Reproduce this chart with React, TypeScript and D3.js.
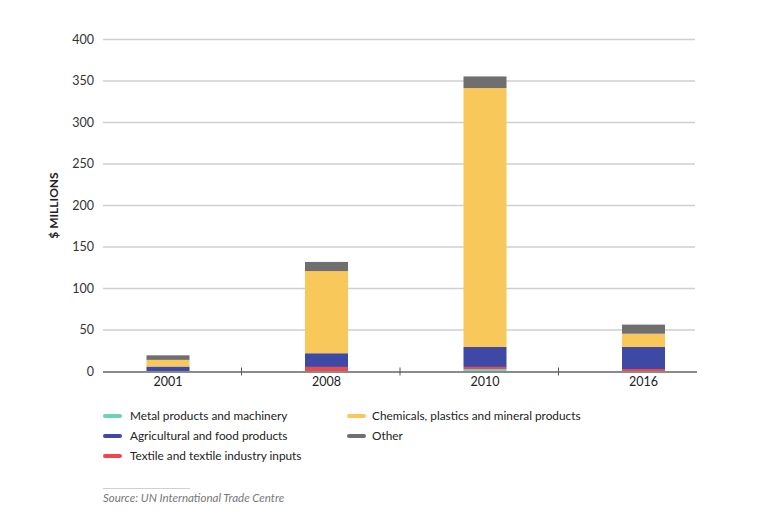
import { useEffect, useRef } from 'react';
import * as d3 from 'd3';

const years = ['2001', '2008', '2010', '2016'];
const metal = [0, 0, 3, 0];
const textile = [0, 5.5, 2.5, 3];
const agri = [6, 16.5, 24, 26.5];
const chemicals = [8, 99, 312, 16];
const other = [5.5, 11, 14, 11];
const yTicks = [0, 50, 100, 150, 200, 250, 300, 350, 400];

const seriesDefs = [
    { key: 'metal', name: 'Metal products and machinery', color: '#6fcfba', values: metal },
    { key: 'textile', name: 'Textile and textile industry inputs', color: '#f2474a', values: textile },
    { key: 'agri', name: 'Agricultural and food products', color: '#3e49a6', values: agri },
    { key: 'chem', name: 'Chemicals, plastics and mineral products', color: '#f9c85a', values: chemicals },
    { key: 'other', name: 'Other', color: '#6f6f6f', values: other },
];

const legendOrder = [
    { key: 'metal', col: 0, row: 0 },
    { key: 'agri', col: 0, row: 1 },
    { key: 'textile', col: 0, row: 2 },
    { key: 'chem', col: 1, row: 0 },
    { key: 'other', col: 1, row: 1 },
];

const FONT = 'Lato, "Noto Sans", sans-serif';

export default function App() {
    const ref = useRef<SVGSVGElement>(null);

    useEffect(() => {
        if (!ref.current) return;
        const svg = d3.select(ref.current);
        svg.selectAll('*').remove();

        const width = 761;
        const height = 530;
        svg.attr('width', width).attr('height', height);

        const gridLeft = 103;
        const gridRight = 695;

        const x = d3.scaleBand<string>().domain(years).range([83, 717]).padding(0);
        const barW = 43;
        const barOffset = 63.5;

        const y = d3.scaleLinear().domain([0, 400]).range([371.5, 39.5]);

        // Gridlines
        svg.append('g')
            .selectAll('line')
            .data(yTicks.filter((t) => t > 0))
            .join('line')
            .attr('x1', gridLeft)
            .attr('x2', gridRight)
            .attr('y1', (d) => y(d))
            .attr('y2', (d) => y(d))
            .attr('stroke', '#cfcfcf')
            .attr('stroke-width', 1.5);

        // Y labels
        svg.append('g')
            .selectAll('text')
            .data(yTicks)
            .join('text')
            .attr('x', 94)
            .attr('y', (d) => y(d))
            .attr('dy', '0.35em')
            .attr('text-anchor', 'end')
            .attr('font-family', FONT)
            .attr('font-size', 12.5)
            .attr('fill', '#333')
            .text((d) => d);

        // Y title
        svg.append('text')
            .attr('transform', `translate(58, ${y(200)}) rotate(-90)`)
            .attr('text-anchor', 'middle')
            .attr('font-family', FONT)
            .attr('font-size', 12)
            .attr('font-weight', 700)
            .attr('fill', '#222')
            .text('$ MILLIONS');

        // Stacked bars
        const table = years.map((yr, i) => {
            const row: Record<string, number | string> = { year: yr };
            seriesDefs.forEach((s) => (row[s.key] = s.values[i]));
            return row;
        });
        const stack = d3.stack<Record<string, number | string>>().keys(seriesDefs.map((s) => s.key));
        const layers = stack(table as any);

        svg.append('g')
            .selectAll('g')
            .data(layers)
            .join('g')
            .attr('fill', (d, i) => seriesDefs[i].color)
            .selectAll('rect')
            .data((d) => d)
            .join('rect')
            .attr('x', (d) => (x(d.data.year as string) as number) + barOffset)
            .attr('width', barW)
            .attr('y', (d) => y(d[1]))
            .attr('height', (d) => Math.max(0, y(d[0]) - y(d[1])));

        // X axis line
        svg.append('line')
            .attr('x1', gridLeft)
            .attr('x2', 697)
            .attr('y1', y(0) + 0.5)
            .attr('y2', y(0) + 0.5)
            .attr('stroke', '#8a8a8a')
            .attr('stroke-width', 2);

        // Separator ticks between categories
        svg.append('g')
            .selectAll('line')
            .data(years.slice(1))
            .join('line')
            .attr('x1', (d) => x(d) as number)
            .attr('x2', (d) => x(d) as number)
            .attr('y1', y(0) - 4)
            .attr('y2', y(0) + 4)
            .attr('stroke', '#555')
            .attr('stroke-width', 1);

        // X labels
        svg.append('g')
            .selectAll('text')
            .data(years)
            .join('text')
            .attr('x', (d) => (x(d) as number) + barOffset + barW / 2)
            .attr('y', 386)
            .attr('text-anchor', 'middle')
            .attr('font-family', FONT)
            .attr('font-size', 12.5)
            .attr('fill', '#222')
            .text((d) => d);

        // Legend
        const colX = [103, 347];
        const rowY = [416, 436, 456];
        const legend = svg.append('g')
            .selectAll('g')
            .data(legendOrder)
            .join('g')
            .attr('transform', (d) => `translate(${colX[d.col]}, ${rowY[d.row]})`);

        legend.append('line')
            .attr('x1', 2)
            .attr('x2', 17)
            .attr('y1', 0)
            .attr('y2', 0)
            .attr('stroke', (d) => seriesDefs.find((s) => s.key === d.key)!.color)
            .attr('stroke-width', 4)
            .attr('stroke-linecap', 'round');

        legend.append('text')
            .attr('x', (d) => (d.col === 0 ? 27 : 25))
            .attr('y', 0)
            .attr('dy', '0.35em')
            .attr('font-family', FONT)
            .attr('font-size', 11.8)
            .attr('fill', '#222')
            .text((d) => seriesDefs.find((s) => s.key === d.key)!.name);

        // Source
        svg.append('line')
            .attr('x1', 103)
            .attr('x2', 190)
            .attr('y1', 488.5)
            .attr('y2', 488.5)
            .attr('stroke', '#d0d0d0')
            .attr('stroke-width', 1);

        svg.append('text')
            .attr('x', 103)
            .attr('y', 502)
            .attr('font-family', FONT)
            .attr('font-size', 11.5)
            .attr('font-style', 'italic')
            .attr('fill', '#777')
            .text('Source: UN International Trade Centre');
    }, []);

    return <svg ref={ref} style={{ display: 'block', position: 'absolute', left: 0, top: 0 }} />;
}
